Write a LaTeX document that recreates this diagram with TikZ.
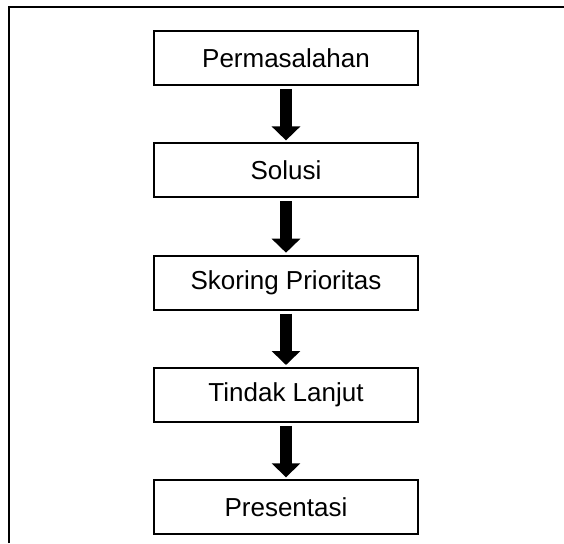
\documentclass[tikz,border=0pt]{standalone}
\usepackage{fontspec}
\setmainfont{Liberation Sans}
\usetikzlibrary{positioning}
\usetikzlibrary{arrows.meta}

\begin{document}
\begin{tikzpicture}[x=1pt, y=-1pt,
  box/.style={draw, line width=1.8pt, minimum width=264pt, minimum height=54pt,
    inner sep=0pt, font=\fontsize{26}{30}\selectfont},
  flow/.style={line width=12pt, -{Triangle[width=28pt,length=14pt]},
    shorten <=3pt, shorten >=2pt},
  node distance=56.5pt]

\useasboundingbox (0,0) rectangle (564,543);

% outer frame
\draw[line width=2pt] (9,543) -- (9,7) -- (564,7);

\node[box] (masalah) at (286,58) {Permasalahan};
\node[box, below=of masalah] (solusi) {Solusi};
\node[box, below=of solusi] (skoring) {Skoring Prioritas};
\node[box, below=of skoring] (lanjut) {Tindak Lanjut};
\node[box, below=of lanjut] (presentasi) {Presentasi};

\foreach \a/\b in {masalah/solusi, solusi/skoring, skoring/lanjut, lanjut/presentasi}
 \draw[flow] (\a) -- (\b);

\end{tikzpicture}
\end{document}
